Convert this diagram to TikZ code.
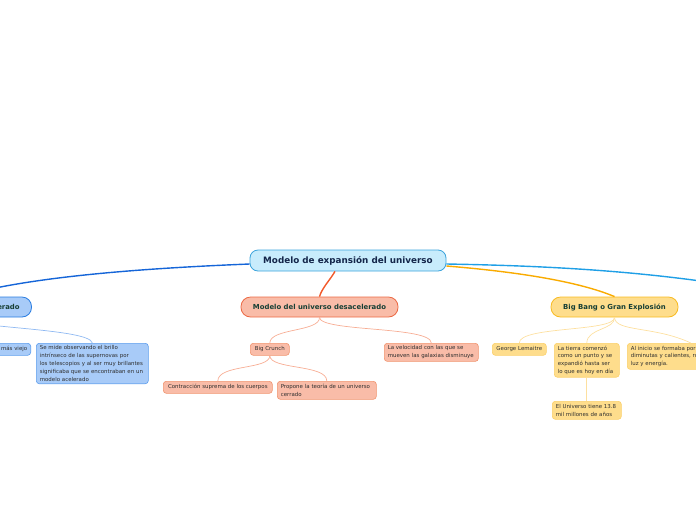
\documentclass[tikz,border=0pt]{standalone}
\usepackage{fontspec}
\setmainfont{DejaVu Sans}
\definecolor{rootfill}{HTML}{C8ECFC}
\definecolor{rootdraw}{HTML}{3BA3DC}
\definecolor{roottext}{HTML}{14264A}
\definecolor{maintext}{HTML}{173F35}
\definecolor{subtext}{HTML}{2E2E2E}
\definecolor{bline}{HTML}{1565D8}
\definecolor{bfill}{HTML}{A8CBF8}
\definecolor{bdraw}{HTML}{2A7DE1}
\definecolor{bsdraw}{HTML}{5C9DED}
\definecolor{bcon}{HTML}{8FB9F2}
\definecolor{oline}{HTML}{F2592A}
\definecolor{ofill}{HTML}{F9BCA8}
\definecolor{odraw}{HTML}{EC6A45}
\definecolor{osdraw}{HTML}{F0946F}
\definecolor{ocon}{HTML}{F7AD94}
\definecolor{yline}{HTML}{F9AB00}
\definecolor{yfill}{HTML}{FEDD8C}
\definecolor{ydraw}{HTML}{F8BB23}
\definecolor{ysdraw}{HTML}{FBD06A}
\definecolor{ycon}{HTML}{FDE0A0}
\definecolor{cline}{HTML}{1F9FE6}
\tikzset{
  rootbox/.style={draw=rootdraw, fill=rootfill, line width=0.8pt, rounded corners=8pt,
    minimum width=196pt, minimum height=21pt, inner sep=0pt,
    font=\fontsize{8.8}{10}\selectfont\bfseries, text=roottext},
  mainbox/.style={line width=0.8pt, rounded corners=9.5pt, minimum height=20pt, inner sep=0pt,
    font=\fontsize{6.9}{8}\selectfont\bfseries, text=maintext},
  subbox/.style={line width=0.6pt, rounded corners=3pt, inner xsep=3.5pt, inner ysep=2.5pt,
    font=\fontsize{5.45}{7.8}\selectfont, text=subtext, align=left, anchor=north west},
  bsub/.style={subbox, draw=bsdraw, fill=bfill},
  osub/.style={subbox, draw=osdraw, fill=ofill},
  ysub/.style={subbox, draw=ysdraw, fill=yfill},
  mainline/.style={line width=1.4pt},
  subline/.style={line width=0.7pt},
}
\begin{document}
\begin{tikzpicture}[x=1pt,y=-1pt]
\useasboundingbox (0,0) rectangle (696,520);
% main nodes
\node[rootbox] (root) at (348,260.5) {Modelo de expansión del universo};
\node[mainbox, draw=bdraw, fill=bfill, minimum width=143pt] (acel) at (-40,307) {Modelo del universo acelerado};
\node[mainbox, draw=odraw, fill=ofill, minimum width=157pt] (desac) at (319.5,307) {Modelo del universo desacelerado};
\node[mainbox, draw=ydraw, fill=yfill, minimum width=127pt] (bang) at (614.5,307) {Big Bang o Gran Explosión};
\coordinate (offright) at (770,292);
% sub nodes acelerado
\node[bsub, anchor=north east, minimum height=12pt] (viejo) at (31,343) {El universo es más viejo};
\node[bsub, text width=105pt, minimum height=38pt] (semide) at (36,343) {Se mide observando el brillo\\intrínseco de las supernovas por\\los telescopios y al ser muy brillantes\\significaba que se encontraban en un\\modelo acelerado};
% sub nodes desacelerado
\node[osub, minimum width=39pt, minimum height=12pt] (crunch) at (250,343) {Big Crunch};
\node[osub, text width=87pt, minimum height=18pt] (veloc) at (384,343) {La velocidad con las que se\\mueven las galaxias disminuye};
\node[osub, minimum width=109pt, minimum height=12pt] (contr) at (163,381) {Contracción suprema de los cuerpos};
\node[osub, text width=92pt, minimum height=18pt] (propone) at (277,381) {Propone la teoría de un universo\\cerrado};
% sub nodes big bang
\node[ysub, minimum width=54pt, minimum height=12pt] (george) at (492,343) {George Lemaitre};
\node[ysub, text width=58pt, minimum height=31pt] (tierra) at (554,343) {La tierra comenzó\\como un punto y se\\expandió hasta ser\\lo que es hoy en día};
\node[ysub, text width=120pt, minimum height=25pt] (inicio) at (627,343) {Al inicio se formaba por partículas\\diminutas y calientes, rodeadas de\\luz y energía.};
\node[ysub, text width=62pt, minimum height=18pt] (trece) at (552,401) {El Universo tiene 13.8\\mil millones de años};
% main connectors
\draw[mainline, bline] ([yshift=-3.5pt]root.west) .. controls (150,268) and (30,276) .. (acel.north);
\draw[mainline, oline] ([xshift=-13pt]root.south) .. controls (330,280) and (322,288) .. (desac.north);
\draw[mainline, yline] ([yshift=-5.5pt]root.east) .. controls (520,272) and (580,282) .. (bang.north);
\draw[mainline, cline] ([yshift=-3.5pt]root.east) .. controls (560,266) and (660,272) .. (offright);
% sub connectors
\draw[subline, bcon] (acel.south) .. controls (-40,332) and (-20,335) .. (viejo.north);
\draw[subline, bcon] (acel.south) .. controls (-40,328) and (90,328) .. (semide.north);
\draw[subline, ocon] (desac.south) .. controls (320,332) and (270,328) .. (crunch.north);
\draw[subline, ocon] (desac.south) .. controls (320,332) and (431,326) .. (veloc.north);
\draw[subline, ocon] (crunch.south) .. controls (270,370) and (218,364) .. (contr.north);
\draw[subline, ocon] (crunch.south) .. controls (270,370) and (327,364) .. (propone.north);
\draw[subline, ycon] (bang.south) .. controls (615,332) and (519,326) .. (george.north);
\draw[subline, ycon] (bang.south) .. controls (615,330) and (587,328) .. (tierra.north);
\draw[subline, ycon] (bang.south) .. controls (615,332) and (655,326) .. (inicio.north);
\draw[subline, ycon] (tierra.south) -- (trece.north);
\end{tikzpicture}
\end{document}
